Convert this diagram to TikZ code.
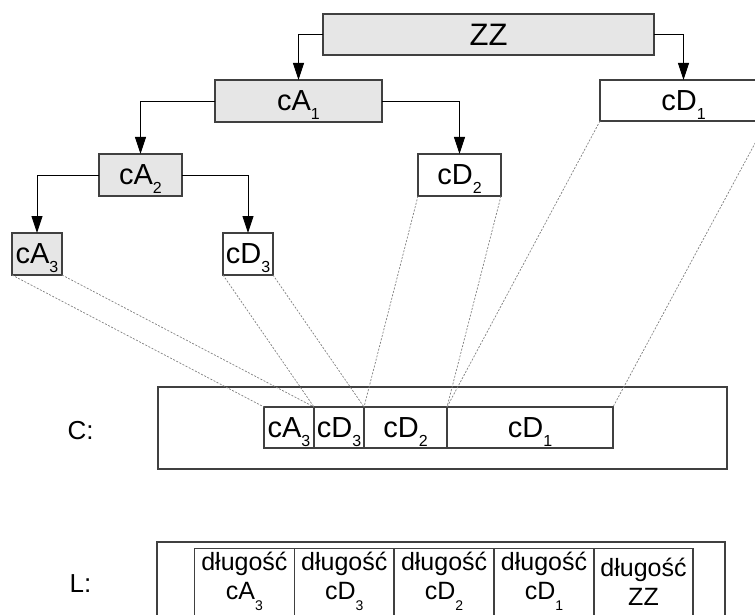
\documentclass[tikz,border=0pt]{standalone}
\usepackage{fontspec}
\setmainfont{Liberation Sans}
\usetikzlibrary{arrows.meta}
\definecolor{boxfill}{HTML}{E6E6E6}
\definecolor{boxedge}{HTML}{404040}
\newcommand{\subbig}[1]{\raisebox{-9pt}[0pt][0pt]{\fontsize{16}{16}\selectfont #1}}
\newcommand{\subsmall}[1]{\raisebox{-11pt}[0pt][0pt]{\fontsize{14}{14}\selectfont #1}}
\tikzset{
  box/.style={draw=boxedge, line width=1.3pt, inner sep=0pt, outer sep=0pt,
    font=\fontsize{29}{29}\selectfont},
  gbox/.style={box, fill=boxfill},
  frame/.style={draw=boxedge, line width=1.3pt, inner sep=0pt, outer sep=0pt},
  arr/.style={line width=0.9pt, -{Triangle[length=17pt,width=11pt]}},
  guide/.style={draw=gray, line width=0.7pt, dash pattern=on 2pt off 1.5pt},
  lbl/.style={inner sep=0pt, font=\fontsize{26}{26}\selectfont},
  ltext/.style={inner sep=0pt, anchor=base, font=\fontsize{25}{25}\selectfont},
}
\begin{document}
\begin{tikzpicture}[x=1pt,y=-1pt]
\useasboundingbox (0,0) rectangle (755,615);
\clip (0,0) rectangle (755,615);

% tree
\node[gbox, minimum width=331pt, minimum height=41pt, font=\fontsize{31}{31}\selectfont] (zz) at (488.5,34.5) {ZZ};
\node[gbox, minimum width=167pt, minimum height=42pt] (ca1) at (298.5,101) {cA\subbig{1}};
\node[box,  minimum width=167pt, minimum height=41pt] (cd1) at (683.5,100.5) {cD\subbig{1}};
\node[gbox, minimum width=83pt, minimum height=42pt] (ca2) at (140.5,175) {cA\subbig{2}};
\node[box,  minimum width=83pt, minimum height=42pt] (cd2) at (459.5,175) {cD\subbig{2}};
\node[gbox, minimum width=50pt, minimum height=42pt] (ca3) at (37,254) {cA\subbig{3}};
\node[box,  minimum width=50pt, minimum height=42pt] (cd3) at (248,254) {cD\subbig{3}};

\draw[arr] (zz.west) -| (ca1.north);
\draw[arr] (zz.east) -| (cd1.north);
\draw[arr] (ca1.west) -| (ca2.north);
\draw[arr] (ca1.east) -| (cd2.north);
\draw[arr] (ca2.west) -| (ca3.north);
\draw[arr] (ca2.east) -| (cd3.north);

% C row
\node[frame, minimum width=569pt, minimum height=82pt] (cbox) at (442.5,428) {};
\node[lbl] (clab) at (80.5,430.5) {C:};
\node[box, minimum width=50pt, minimum height=41pt] (cca3) at (289,427.5) {cA\subbig{3}};
\node[box, minimum width=50pt, minimum height=41pt] (ccd3) at (339,427.5) {cD\subbig{3}};
\node[box, minimum width=83pt, minimum height=41pt] (ccd2) at (405.5,427.5) {cD\subbig{2}};
\node[box, minimum width=166pt, minimum height=41pt] (ccd1) at (530,427.5) {cD\subbig{1}};

% guide lines
\draw[guide] (ca3.south west) -- (cca3.north west);
\draw[guide] (ca3.south east) -- (cca3.north east);
\draw[guide] (cd3.south west) -- (ccd3.north west);
\draw[guide] (cd3.south east) -- (ccd3.north east);
\draw[guide] (cd2.south west) -- (ccd2.north west);
\draw[guide] (cd2.south east) -- (ccd2.north east);
\draw[guide] (cd1.south west) -- (ccd1.north west);
\draw[guide] (cd1.south east) -- (ccd1.north east);

% L row
\node[frame, minimum width=568pt, minimum height=90pt] (lbox) at (441,587) {};
\node[lbl] (llab) at (80.5,584) {L:};
\node[frame, minimum width=100pt, minimum height=85pt] (l1) at (244.4,591) {};
\node[frame, minimum width=100pt, minimum height=85pt] (l2) at (344.3,591) {};
\node[frame, minimum width=100pt, minimum height=85pt] (l3) at (444.1,591) {};
\node[frame, minimum width=100pt, minimum height=85pt] (l4) at (544,591) {};
\node[frame, minimum width=99pt, minimum height=85pt] (l5) at (643.5,591) {};

\node[ltext] (t1a) at (244.4,570) {długość};
\node[ltext] (t1b) at (244.4,599) {cA\subsmall{3}};
\node[ltext] (t2a) at (344.3,570) {długość};
\node[ltext] (t2b) at (344.3,599) {cD\subsmall{3}};
\node[ltext] (t3a) at (444.1,570) {długość};
\node[ltext] (t3b) at (444.1,599) {cD\subsmall{2}};
\node[ltext] (t4a) at (544,570) {długość};
\node[ltext] (t4b) at (544,599) {cD\subsmall{1}};
\node[ltext] (t5a) at (643.5,576) {długość};
\node[ltext] (t5b) at (643.5,605) {ZZ};
\end{tikzpicture}
\end{document}
